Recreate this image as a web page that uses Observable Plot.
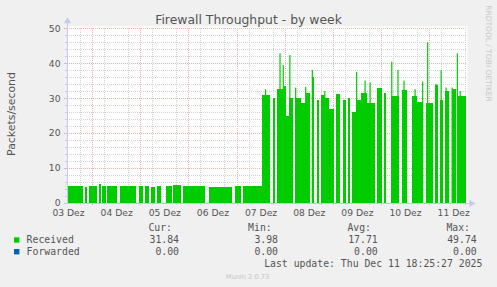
<!DOCTYPE html>
<html><head><meta charset="utf-8">
<script src="https://cdn.jsdelivr.net/npm/d3@7"></script>
<script src="https://cdn.jsdelivr.net/npm/@observablehq/plot@0.6"></script>
<style>
html,body{margin:0;padding:0;background:#f0f0f0;}
#wrap{position:relative;width:497px;height:287px;overflow:hidden;background:#f0f0f0;}
#wrap svg{display:block;}
</style></head><body><div id="wrap"></div>
<script>
// ---- texts ----
const title = "Firewall Throughput - by week";
const yLabel = "Packets/second";
const watermark = "RRDTOOL / TOBI OETIKER";
const footer = "Munin 2.0.73";
const lastUpdate = "Last update: Thu Dec 11 18:25:27 2025";

// ---- x ticks (hours since 03 Dez 00:00) ----
const dayLabels = ["03 Dez","04 Dez","05 Dez","06 Dez","07 Dez","08 Dez","09 Dez","10 Dez","11 Dez"];
const dayLabelHours = [12,36,60,84,108,132,156,180,204];
const midnightHours = [24,48,72,96,120,144,168,192];
const minorHours = [18,30,42,54,66,78,90,102,114,126,138,150,162,174,186,198,210];
const yMajorTicks = [0,10,20,30,40,50];
const yMinorTicks = [2,4,6,8,12,14,16,18,22,24,26,28,32,34,36,38,42,44,46,48];

// ---- series: Received (blocks of data: start hour, end hour, packets/s) ----
const receivedBlocks = [
  [11.5,19.5,4.8],[20.5,21.5,4.7],[22.5,26.5,4.9],[27.5,28.2,5.4],[29,31,4.8],
  [31.5,36.5,4.9],[38,46,5.0],[47.5,49.5,4.8],[50.5,52.5,4.9],[53.5,55.5,4.7],
  [56.5,58.5,4.9],[61,64,5.0],[64.5,68.5,5.1],[69.5,80.5,4.9],[82.5,94,4.7],
  [95,98,4.8],[99,108.75,4.9],
  [108.75,112.75,31],[114,115,30],[116,119.5,32.5],[119.5,120.5,33.5],[120.5,122,25],
  [122,124,30],[125,128,30],[128,130.5,28.5],[130.5,132.5,31.5],[133.5,134.5,36],
  [136,137,29.5],[138,140,31],[140,142,30],[142,144.5,27],[145.5,147.5,31.3],
  [149,150.5,29.5],[151.5,152.5,30],[153.5,155.5,26],[155.5,158,29.5],[158,161,31.5],
  [161,165,28.5],[166,168.5,33],[169.5,170.5,31.5],[173,177,30.5],[178.5,181,32.3],
  [183.5,186,30.5],[186,189,29],[190.5,194,28.5],[195,196.5,33.7],[197.5,199,29.4],
  [200,202,32],[203.5,205.5,32.5],[206,210.6,30.5]
];
// short spikes: hour, packets/s
const receivedPeaks = [
  [110.5,32.5],[117.7,42.8],[119.3,39.4],[122.6,42.3],[125.5,33],[130.5,33.2],
  [133.8,38],[140,32],[155.9,37.5],[160.1,35],[162.6,34.5],[173.4,40.4],
  [176.5,38],[179.5,35],[185,32.5],[188.8,34.7],[191.3,46],[195.5,34],
  [198,38],[200.5,33],[203.5,33],[206.1,42.8],[207.5,32]
];

// ---- legend ----
const legendNames = ["Received","Forwarded"];
const legendColors = ["#00cc00","#0066b3"];
const legendCur = ["31.84","0.00"];
const legendMin = ["3.98","0.00"];
const legendAvg = ["17.71","0.00"];
const legendMax = ["49.74","0.00"];
const legendHeaders = ["Cur:","Min:","Avg:","Max:"];

const blocks = receivedBlocks.map(([a,b,v]) => ({x1:a, x2:b, y:v}));
const peaks = receivedPeaks.map(([h,v]) => ({x1:h-0.3, x2:h+0.3, y:v}));
const fmtDay = d => dayLabels[dayLabelHours.indexOf(d)];

const X0 = 11.5, X1 = 210.9;
const axisCol = "#c6c9ef", minorCol = "#d4d4d4", majorCol = "#edb3b3";

const chart = Plot.plot({
  width: 497, height: 287,
  marginLeft: 67, marginRight: 30, marginTop: 26, marginBottom: 84,
  x: {type: "linear", domain: [X0, X1], axis: null},
  y: {type: "linear", domain: [0, 50.6], axis: null},
  style: {background: "#f0f0f0", color: "#555", fontFamily: "DejaVu Sans", fontSize: "9.2px", overflow: "visible"},
  marks: [
    Plot.frame({fill: "white", stroke: "none"}),
    Plot.ruleX(minorHours, {y1: 0, y2: 50.2, stroke: minorCol, strokeDasharray: "1,1", shapeRendering: "crispEdges"}),
    Plot.ruleY(yMinorTicks, {x1: X0, x2: X1, stroke: minorCol, strokeDasharray: "1,1", shapeRendering: "crispEdges"}),
    Plot.ruleX(midnightHours, {y1: 0, y2: 50.2, stroke: majorCol, strokeDasharray: "1,1", shapeRendering: "crispEdges"}),
    Plot.ruleY(yMajorTicks.filter(d=>d>0), {x1: X0, x2: X1, stroke: majorCol, strokeDasharray: "1,1", shapeRendering: "crispEdges"}),
    Plot.rectY(blocks, {x1: "x1", x2: "x2", y: "y", fill: legendColors[0], shapeRendering: "crispEdges"}),
    Plot.rectY(peaks, {x1: "x1", x2: "x2", y: "y", fill: legendColors[0]}),
    // axis ticks
    Plot.ruleY(yMinorTicks, {x1: X0 - 1.2, x2: X0, stroke: axisCol, shapeRendering: "crispEdges"}),
    Plot.ruleY(yMajorTicks, {x1: X0 - 1.5, x2: X0, stroke: majorCol, shapeRendering: "crispEdges"}),
    Plot.ruleX(minorHours, {y1: -0.6, y2: 0, stroke: axisCol, shapeRendering: "crispEdges"}),
    Plot.ruleX(midnightHours, {y1: -0.6, y2: 0, stroke: majorCol, shapeRendering: "crispEdges"}),
    // axis lines with arrows
    Plot.ruleY([0], {x1: X0, x2: 212.6, stroke: axisCol, shapeRendering: "crispEdges"}),
    Plot.ruleX([X0], {y1: 0, y2: 51.5, stroke: axisCol, shapeRendering: "crispEdges"}),
    Plot.dot([[X0, 52.1]], {x: d=>d[0], y: d=>d[1], symbol: "triangle", r: 2.6, fill: axisCol, stroke: "none"}),
    Plot.dot([[212.9, 0]], {x: d=>d[0], y: d=>d[1], symbol: "triangle", r: 2.6, fill: axisCol, stroke: "none", rotate: 90}),
    // tick labels
    Plot.text(dayLabelHours, {x: d=>d, y: 0, text: fmtDay, dy: 9.5, lineAnchor: "middle", fill: "#555", fontSize: 9.2}),
    Plot.text(yMajorTicks, {x: X0, y: d=>d, text: d=>String(d), textAnchor: "end", dx: -7, lineAnchor: "middle", fill: "#555", fontSize: 9.2})
  ]
});
document.getElementById("wrap").appendChild(chart);

// ---- titles and legend as text ----
const svg = d3.select(chart);
const g = svg.append("g").attr("font-family", "DejaVu Sans").attr("fill", "#555");
g.append("text").attr("x", 248.5).attr("y", 24.3).attr("text-anchor", "middle").attr("font-size", 12.4).text(title);
g.append("text").attr("transform", "translate(14.6,114) rotate(-90)").attr("text-anchor", "middle").attr("font-size", 10.9).text(yLabel);
g.append("text").attr("transform", "translate(485.6,53.5) rotate(90)").attr("text-anchor", "middle").attr("font-size", 7.5).attr("fill", "#c8c8c8").text(watermark);
g.append("text").attr("x", 247.5).attr("y", 278.8).attr("text-anchor", "middle").attr("font-size", 6.7).attr("fill", "#c4c4c4").text(footer);

const mono = svg.append("g").attr("font-family", "DejaVu Sans Mono").attr("font-size", 9.8).attr("fill", "#555");
const headerX = [172, 271.7, 371, 470];
const valueX = [179, 278, 377.7, 476.7];
legendHeaders.forEach((h, i) => mono.append("text").attr("x", headerX[i]).attr("y", 231.3).attr("text-anchor", "end").text(h));
legendNames.forEach((n, r) => {
  const yb = 243.2 + r * 11.7;
  mono.append("rect").attr("x", 14).attr("y", yb - 5.9).attr("width", 5.4).attr("height", 5.4).attr("fill", legendColors[r]);
  mono.append("text").attr("x", 26.6).attr("y", yb).attr("text-anchor", "start").text(n);
  [legendCur, legendMin, legendAvg, legendMax].forEach((arr, i) =>
    mono.append("text").attr("x", valueX[i]).attr("y", yb).attr("text-anchor", "end").text(arr[r]));
});
mono.append("text").attr("x", 482.4).attr("y", 266.6).attr("text-anchor", "end").text(lastUpdate);
</script></body></html>
